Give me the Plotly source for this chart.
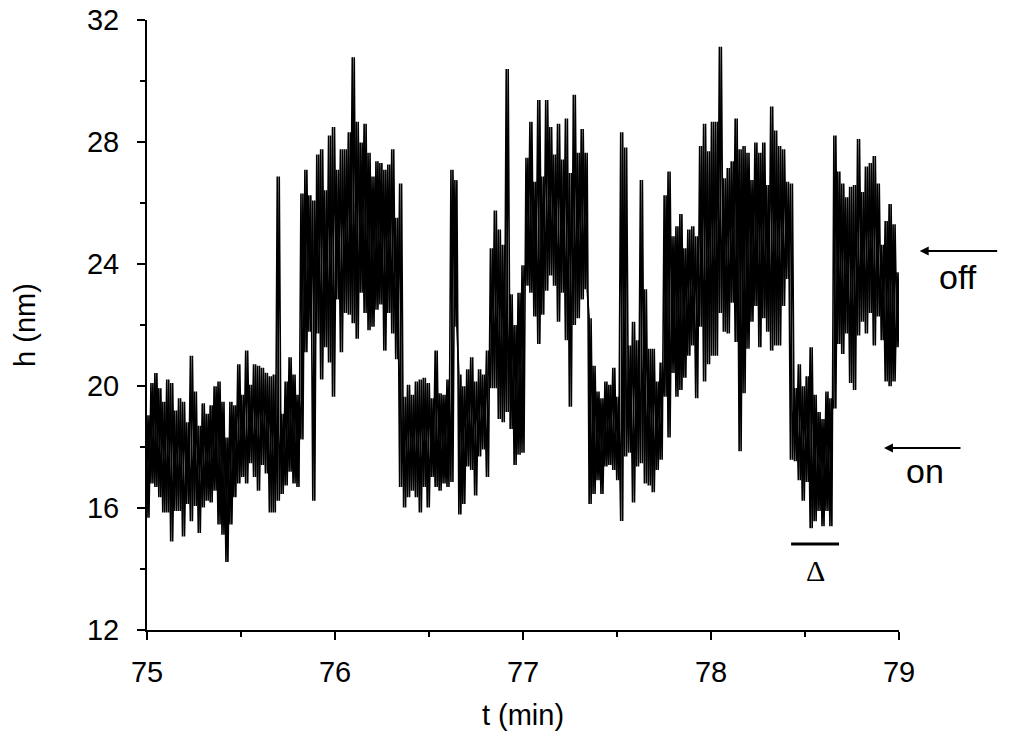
import numpy as np
import plotly.graph_objects as go

# Time window (min) and y range (nm)
t_start, t_end = 75.0, 79.0
h_min, h_max = 12.0, 32.0

# Trace: per ~0.021 min bin, upper and lower excursion of h (nm)
h_high = [
    19.04, 20.10, 20.43, 19.93, 19.48, 20.21, 20.10, 19.20, 19.60, 19.48, 18.81, 20.99, 19.82, 18.70, 19.43, 19.09,
    19.37, 19.99, 20.15, 19.48, 18.31, 19.48, 19.37, 20.71, 19.71, 21.16, 20.04, 20.71, 20.66, 20.60, 20.43, 20.32,
    20.38, 26.87, 19.09, 20.15, 20.94, 20.38, 19.71, 26.31, 27.09, 26.25, 26.08, 27.59, 27.76, 26.42, 28.21, 28.49,
    27.09, 27.76, 27.76, 28.32, 30.78, 28.66, 27.98, 28.60, 27.65, 26.87, 27.37, 27.31, 27.09, 27.26, 27.76, 25.52,
    26.64, 19.65, 20.04, 19.71, 20.15, 20.21, 20.27, 20.10, 19.60, 21.16, 19.76, 19.71, 20.21, 27.09, 26.75, 20.38,
    19.99, 20.55, 20.94, 20.15, 20.55, 20.38, 21.16, 24.52, 25.75, 25.13, 24.63, 30.39, 23.01, 22.00, 23.06, 23.96,
    27.48, 28.66, 26.70, 29.38, 26.87, 29.38, 28.49, 27.59, 28.60, 27.43, 28.77, 26.98, 29.55, 27.65, 28.43, 27.65,
    22.22, 20.66, 19.82, 19.60, 20.15, 20.04, 20.60, 19.65, 28.32, 27.82, 21.33, 22.11, 21.50, 26.75, 23.17, 21.22,
    21.22, 20.15, 20.77, 26.25, 27.03, 24.91, 25.24, 25.64, 24.52, 25.13, 25.24, 24.91, 27.87, 28.60, 27.70, 28.66,
    28.66, 31.12, 26.81, 27.15, 27.37, 28.77, 27.76, 27.87, 27.65, 26.75, 27.98, 27.65, 27.98, 26.59, 29.16, 28.38,
    27.87, 27.76, 26.70, 26.64, 19.93, 20.71, 19.99, 20.32, 21.27, 19.71, 19.15, 18.92, 19.82, 19.60, 28.21, 27.03,
    26.64, 26.19, 26.53, 26.59, 28.10, 26.36, 27.20, 27.31, 27.54, 26.64, 24.63, 25.41, 25.97, 25.30, 23.73,
]
h_low = [
    15.68, 16.80, 16.69, 16.35, 15.85, 15.85, 14.90, 15.90, 15.90, 15.07, 16.13, 15.57, 16.07, 15.18, 16.02, 16.24,
    16.18, 16.57, 15.46, 15.12, 14.23, 15.46, 16.35, 16.80, 17.02, 16.80, 17.47, 17.02, 16.57, 17.41, 17.13, 15.85,
    15.85, 16.24, 16.46, 16.74, 17.19, 16.80, 16.69, 18.25, 21.11, 21.78, 16.24, 21.72, 20.21, 21.27, 20.77, 19.65,
    22.84, 21.11, 22.39, 22.34, 22.06, 21.55, 23.06, 22.39, 21.83, 21.94, 22.50, 22.67, 21.16, 22.39, 21.72, 20.88,
    16.69, 16.02, 16.35, 16.57, 16.35, 15.85, 16.69, 16.02, 17.02, 16.69, 16.57, 16.80, 16.69, 16.85, 21.94, 15.79,
    16.13, 17.36, 17.25, 16.41, 17.69, 17.92, 17.02, 19.93, 19.93, 18.92, 18.81, 19.15, 18.59, 17.41, 17.75, 17.81,
    23.29, 23.06, 22.28, 21.38, 22.34, 23.12, 23.62, 23.29, 22.11, 23.06, 21.50, 19.32, 22.00, 22.22, 22.84, 23.17,
    16.13, 16.46, 16.91, 16.46, 17.36, 17.41, 17.25, 16.91, 15.57, 17.69, 17.81, 16.18, 17.36, 17.47, 16.80, 16.74,
    16.52, 17.25, 17.58, 19.65, 18.31, 20.43, 19.65, 19.87, 20.27, 20.99, 21.33, 19.60, 21.94, 20.15, 20.71, 20.99,
    20.99, 22.39, 21.78, 21.72, 22.73, 21.44, 17.86, 19.76, 21.22, 22.11, 22.62, 21.27, 22.22, 21.78, 21.16, 21.33,
    21.33, 22.62, 23.51, 17.58, 17.53, 16.91, 16.24, 16.85, 15.34, 15.57, 15.90, 15.40, 15.90, 15.40, 19.26, 21.38,
    21.05, 21.72, 20.10, 19.87, 21.66, 22.11, 21.72, 22.39, 21.33, 22.28, 21.50, 20.15, 19.99, 20.15, 21.27,
]

x_ticks = [75, 76, 77, 78, 79]
y_ticks = [12, 16, 20, 24, 28, 32]

# Annotation anchors (data units)
off_level, off_head_t, off_tail_t, off_label_t, off_label_h = 24.43, 79.11, 79.53, 79.314, 23.57
on_level, on_head_t, on_tail_t, on_label_t, on_label_h = 17.97, 78.92, 79.335, 79.14, 17.21
delta_t0, delta_t1, delta_h, delta_label_h = 78.426, 78.681, 14.82, 13.95

n = len(h_high)
t = np.linspace(t_start, t_end, 2 * n)
# the recorded signal swings between its upper and lower excursion inside every bin;
# drawn in both phases so the dense noise band reads as solid as in the picture
h_a = np.empty(2 * n)
h_a[0::2] = h_high
h_a[1::2] = h_low
h_b = np.empty(2 * n)
h_b[0::2] = h_low
h_b[1::2] = h_high

FONT = "Liberation Sans, Arial, sans-serif"
W, H = 1012, 753
ML, MR, MT, MB = 147, 113, 20, 123
plot_w = W - ML - MR


def tx(tv):
    """data time -> paper fraction"""
    return (tv - t_start) / (t_end - t_start)


fig = go.Figure()
for hh in (h_a, h_b):
    fig.add_trace(go.Scatter(x=t, y=hh, mode="lines",
                             line=dict(color="black", width=1.6),
                             showlegend=False, hoverinfo="skip"))

axis_common = dict(showline=True, linecolor="black", linewidth=2,
                   ticks="outside", ticklen=8, tickwidth=2, tickcolor="black",
                   showgrid=False, zeroline=False, mirror=False, automargin=False,
                   tickfont=dict(family=FONT, size=29, color="black"))

fig.update_xaxes(range=[t_start, t_end], tickvals=x_ticks, ticklabelstandoff=7,
                 minor=dict(ticks="outside", ticklen=5, tickwidth=2, tickcolor="black", dtick=0.5, showgrid=False),
                 title=dict(text="t (min)", font=dict(family=FONT, size=29, color="black"), standoff=18),
                 **axis_common)
fig.update_yaxes(range=[h_min, h_max], tickvals=y_ticks, ticklabelstandoff=12,
                 minor=dict(ticks="outside", ticklen=5, tickwidth=2, tickcolor="black", dtick=2, showgrid=False),
                 title=dict(text="h (nm)", font=dict(family=FONT, size=29, color="black"), standoff=43),
                 **axis_common)

px_per_min = plot_w / (t_end - t_start)
fig.add_annotation(x=tx(off_head_t), y=off_level, xref="paper", yref="y",
                   ax=(off_tail_t - off_head_t) * px_per_min, ay=0,
                   text="", showarrow=True, arrowhead=2, arrowsize=0.9, arrowwidth=2, arrowcolor="black")
fig.add_annotation(x=tx(off_label_t), y=off_label_h, xref="paper", yref="y", text="off", showarrow=False,
                   xanchor="center", yanchor="middle",
                   font=dict(family=FONT, size=34, color="black"))
fig.add_annotation(x=tx(on_head_t), y=on_level, xref="paper", yref="y",
                   ax=(on_tail_t - on_head_t) * px_per_min, ay=0,
                   text="", showarrow=True, arrowhead=2, arrowsize=0.9, arrowwidth=2, arrowcolor="black")
fig.add_annotation(x=tx(on_label_t), y=on_label_h, xref="paper", yref="y", text="on", showarrow=False,
                   xanchor="center", yanchor="middle",
                   font=dict(family=FONT, size=34, color="black"))
fig.add_shape(type="line", x0=delta_t0, x1=delta_t1, y0=delta_h, y1=delta_h, xref="x", yref="y",
              line=dict(color="black", width=3))
fig.add_annotation(x=(delta_t0 + delta_t1) / 2, y=delta_label_h, xref="x", yref="y", text="Δ", showarrow=False,
                   xanchor="center", yanchor="middle",
                   font=dict(family="Liberation Serif, Times New Roman, serif", size=30, color="black"))

fig.update_layout(width=W, height=H, margin=dict(l=ML, r=MR, t=MT, b=MB, autoexpand=False),
                  plot_bgcolor="white", paper_bgcolor="white")

# let the figure fill the 1012x753 page exactly (no default body margin)
fig.write_html("out.html", config={"displayModeBar": False},
               post_script="document.body.style.margin='0';document.body.style.overflow='hidden';")
